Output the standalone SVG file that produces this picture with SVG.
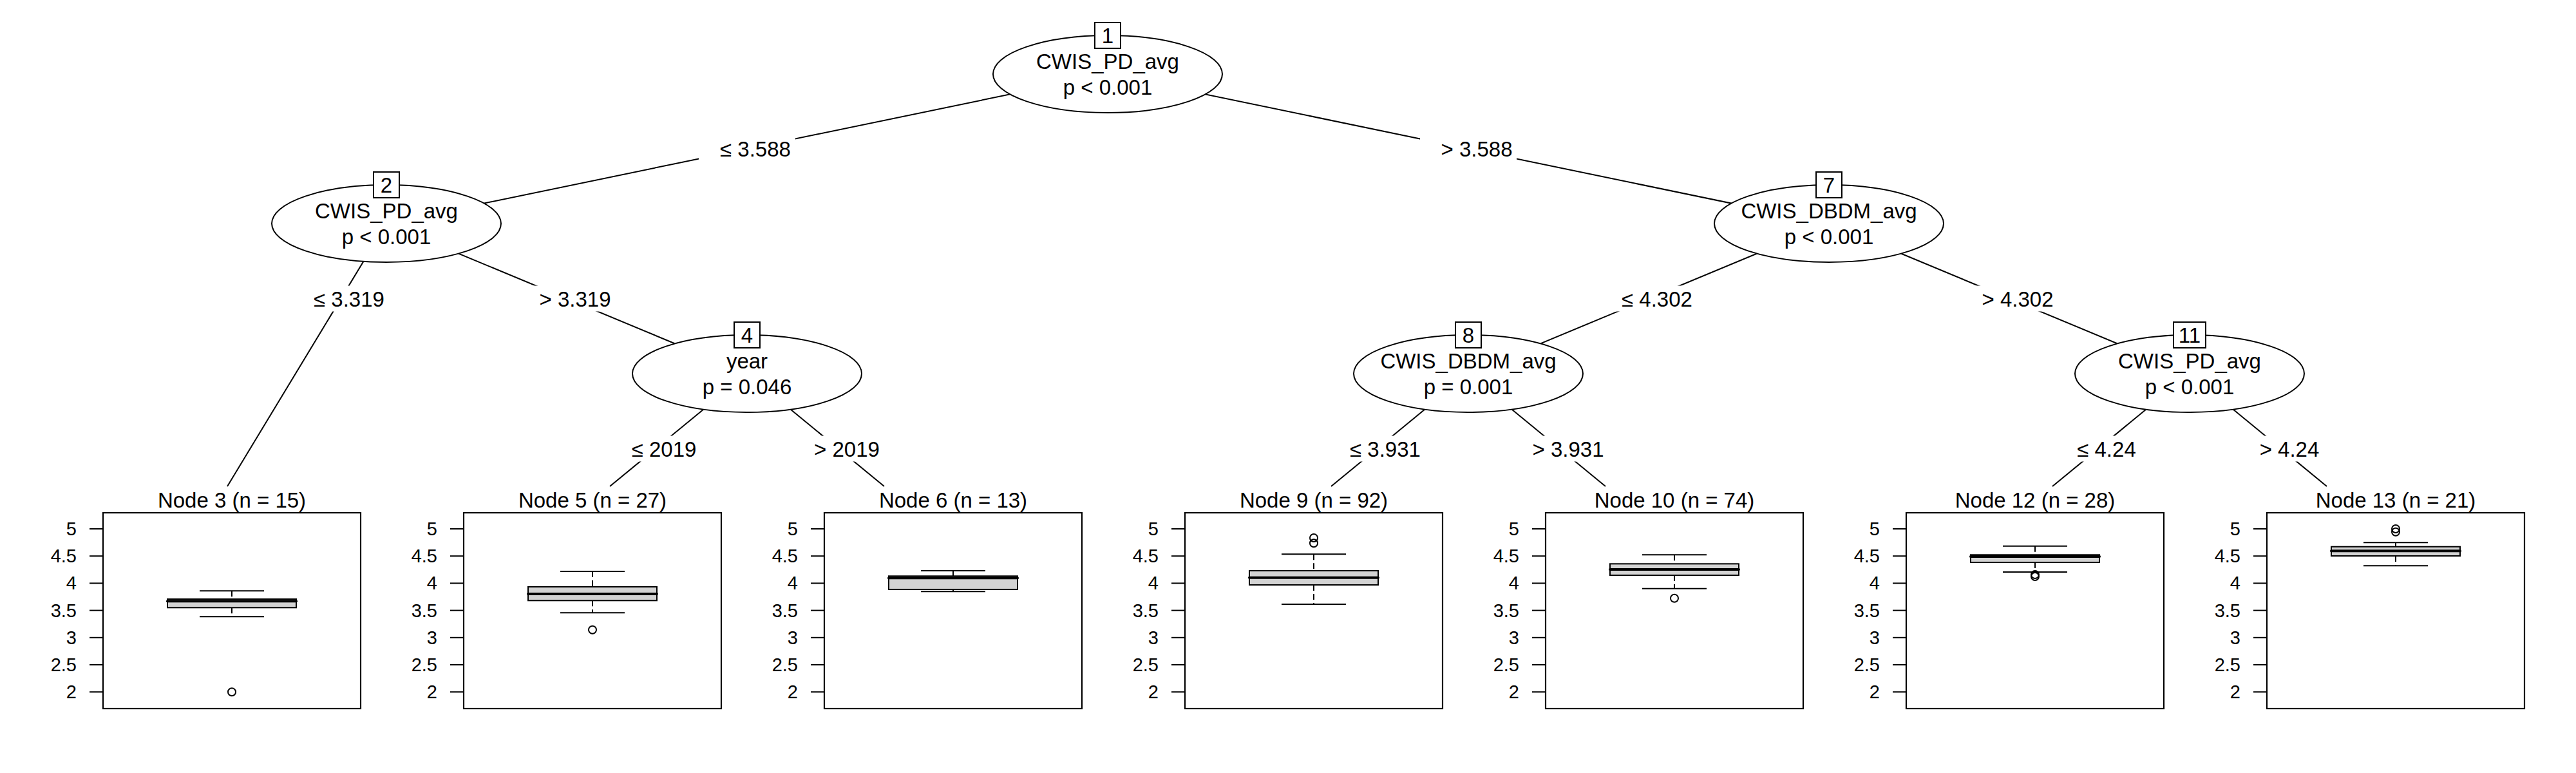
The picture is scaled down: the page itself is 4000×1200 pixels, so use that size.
<svg xmlns="http://www.w3.org/2000/svg" width="4000" height="1200" viewBox="0 0 4000 1200">
<style>
text{font-family:"Liberation Sans",Arial,Helvetica,sans-serif;fill:#000}
.t{font-size:33px;text-anchor:middle}
.ax{font-size:29px;text-anchor:end}
.edge{stroke:#000;stroke-width:2;fill:none}
.lbg{fill:#fff;stroke:none}
.ell{fill:#fff;stroke:#000;stroke-width:2}
.idb{fill:#fff;stroke:#000;stroke-width:2}
.panel{fill:#fff;stroke:#000;stroke-width:2.2}
.tick{stroke:#000;stroke-width:2}
.box{fill:#d3d3d3;stroke:#000;stroke-width:2}
.med{stroke:#000;stroke-width:4;stroke-linecap:round}
.wh{stroke:#000;stroke-width:2;stroke-dasharray:9 5}
.cap{stroke:#000;stroke-width:2}
.out{fill:none;stroke:#000;stroke-width:2}
</style>
<rect x="0" y="0" width="4000" height="1200" fill="#fff"/>
<g id="connectors">
<line class="edge" x1="1720" y1="115" x2="600" y2="347"/>
<line class="edge" x1="1720" y1="115" x2="2840" y2="347"/>
<line class="edge" x1="600" y1="347" x2="353" y2="755"/>
<line class="edge" x1="600" y1="347" x2="1160" y2="580"/>
<line class="edge" x1="1160" y1="580" x2="947" y2="755"/>
<line class="edge" x1="1160" y1="580" x2="1373" y2="755"/>
<line class="edge" x1="2840" y1="347" x2="2280" y2="580"/>
<line class="edge" x1="2840" y1="347" x2="3400" y2="580"/>
<line class="edge" x1="2280" y1="580" x2="2067" y2="755"/>
<line class="edge" x1="2280" y1="580" x2="2493" y2="755"/>
<line class="edge" x1="3400" y1="580" x2="3187" y2="755"/>
<line class="edge" x1="3400" y1="580" x2="3613" y2="755"/>
<rect class="lbg" x="1085" y="211" width="150" height="40"/>
<text class="t" x="1173" y="243">≤ 3.588</text>
<rect class="lbg" x="2205" y="211" width="150" height="40"/>
<text class="t" x="2293" y="243">&gt; 3.588</text>
<rect class="lbg" x="454.5" y="443.5" width="150" height="40"/>
<text class="t" x="542" y="475.5">≤ 3.319</text>
<rect class="lbg" x="805" y="443.5" width="150" height="40"/>
<text class="t" x="893" y="475.5">&gt; 3.319</text>
<rect class="lbg" x="953" y="676.5" width="130" height="40"/>
<text class="t" x="1031" y="708.5">≤ 2019</text>
<rect class="lbg" x="1237" y="676.5" width="130" height="40"/>
<text class="t" x="1315" y="708.5">&gt; 2019</text>
<rect class="lbg" x="2485" y="443.5" width="150" height="40"/>
<text class="t" x="2573" y="475.5">≤ 4.302</text>
<rect class="lbg" x="3045" y="443.5" width="150" height="40"/>
<text class="t" x="3133" y="475.5">&gt; 4.302</text>
<rect class="lbg" x="2063" y="676.5" width="150" height="40"/>
<text class="t" x="2151" y="708.5">≤ 3.931</text>
<rect class="lbg" x="2347" y="676.5" width="150" height="40"/>
<text class="t" x="2435" y="708.5">&gt; 3.931</text>
<rect class="lbg" x="3193" y="676.5" width="130" height="40"/>
<text class="t" x="3271" y="708.5">≤ 4.24</text>
<rect class="lbg" x="3477" y="676.5" width="130" height="40"/>
<text class="t" x="3555" y="708.5">&gt; 4.24</text>
</g>
<g id="node1">
<ellipse class="ell" cx="1720" cy="115" rx="178" ry="60"/>
<rect class="idb" x="1700" y="35" width="40" height="40"/>
<text class="t" x="1720" y="67">1</text>
<text class="t" x="1720" y="107">CWIS_PD_avg</text>
<text class="t" x="1720" y="147">p &lt; 0.001</text>
</g>
<g id="node2">
<ellipse class="ell" cx="600" cy="347" rx="178" ry="60"/>
<rect class="idb" x="580" y="267" width="40" height="40"/>
<text class="t" x="600" y="299">2</text>
<text class="t" x="600" y="339">CWIS_PD_avg</text>
<text class="t" x="600" y="379">p &lt; 0.001</text>
</g>
<g id="node4">
<ellipse class="ell" cx="1160" cy="580" rx="178" ry="60"/>
<rect class="idb" x="1140" y="500" width="40" height="40"/>
<text class="t" x="1160" y="532">4</text>
<text class="t" x="1160" y="572">year</text>
<text class="t" x="1160" y="612">p = 0.046</text>
</g>
<g id="node7">
<ellipse class="ell" cx="2840" cy="347" rx="178" ry="60"/>
<rect class="idb" x="2820" y="267" width="40" height="40"/>
<text class="t" x="2840" y="299">7</text>
<text class="t" x="2840" y="339">CWIS_DBDM_avg</text>
<text class="t" x="2840" y="379">p &lt; 0.001</text>
</g>
<g id="node8">
<ellipse class="ell" cx="2280" cy="580" rx="178" ry="60"/>
<rect class="idb" x="2260" y="500" width="40" height="40"/>
<text class="t" x="2280" y="532">8</text>
<text class="t" x="2280" y="572">CWIS_DBDM_avg</text>
<text class="t" x="2280" y="612">p = 0.001</text>
</g>
<g id="node11">
<ellipse class="ell" cx="3400" cy="580" rx="178" ry="60"/>
<rect class="idb" x="3375" y="500" width="50" height="40"/>
<text class="t" x="3400" y="532">11</text>
<text class="t" x="3400" y="572">CWIS_PD_avg</text>
<text class="t" x="3400" y="612">p &lt; 0.001</text>
</g>
<g id="node3">
<text class="t" x="360" y="788">Node 3 (n = 15)</text>
<rect class="panel" x="160" y="796" width="400" height="304"/>
<line class="tick" x1="139" y1="821" x2="160" y2="821"/><line class="tick" x1="139" y1="863.2" x2="160" y2="863.2"/><line class="tick" x1="139" y1="905.4" x2="160" y2="905.4"/><line class="tick" x1="139" y1="947.6" x2="160" y2="947.6"/><line class="tick" x1="139" y1="989.8" x2="160" y2="989.8"/><line class="tick" x1="139" y1="1032" x2="160" y2="1032"/><line class="tick" x1="139" y1="1074.2" x2="160" y2="1074.2"/>
<text class="ax" x="119" y="831">5</text><text class="ax" x="119" y="873.2">4.5</text><text class="ax" x="119" y="915.4">4</text><text class="ax" x="119" y="957.6">3.5</text><text class="ax" x="119" y="999.8">3</text><text class="ax" x="119" y="1042">2.5</text><text class="ax" x="119" y="1084.2">2</text>
<line class="wh" x1="360" y1="917.3" x2="360" y2="930"/><line class="cap" x1="310" y1="917.3" x2="410" y2="917.3"/>
<line class="wh" x1="360" y1="943.3" x2="360" y2="957.3"/><line class="cap" x1="310" y1="957.3" x2="410" y2="957.3"/>
<rect class="box" x="260" y="930" width="200" height="13.3"/>
<line class="med" x1="260" y1="933.3" x2="460" y2="933.3"/>
<circle class="out" cx="360" cy="1074.3" r="6"/>
</g>
<g id="node5">
<text class="t" x="920" y="788">Node 5 (n = 27)</text>
<rect class="panel" x="720" y="796" width="400" height="304"/>
<line class="tick" x1="699" y1="821" x2="720" y2="821"/><line class="tick" x1="699" y1="863.2" x2="720" y2="863.2"/><line class="tick" x1="699" y1="905.4" x2="720" y2="905.4"/><line class="tick" x1="699" y1="947.6" x2="720" y2="947.6"/><line class="tick" x1="699" y1="989.8" x2="720" y2="989.8"/><line class="tick" x1="699" y1="1032" x2="720" y2="1032"/><line class="tick" x1="699" y1="1074.2" x2="720" y2="1074.2"/>
<text class="ax" x="679" y="831">5</text><text class="ax" x="679" y="873.2">4.5</text><text class="ax" x="679" y="915.4">4</text><text class="ax" x="679" y="957.6">3.5</text><text class="ax" x="679" y="999.8">3</text><text class="ax" x="679" y="1042">2.5</text><text class="ax" x="679" y="1084.2">2</text>
<line class="wh" x1="920" y1="887" x2="920" y2="911"/><line class="cap" x1="870" y1="887" x2="970" y2="887"/>
<line class="wh" x1="920" y1="932.3" x2="920" y2="951.3"/><line class="cap" x1="870" y1="951.3" x2="970" y2="951.3"/>
<rect class="box" x="820" y="911" width="200" height="21.3"/>
<line class="med" x1="820" y1="922" x2="1020" y2="922"/>
<circle class="out" cx="920" cy="977.7" r="6"/>
</g>
<g id="node6">
<text class="t" x="1480" y="788">Node 6 (n = 13)</text>
<rect class="panel" x="1280" y="796" width="400" height="304"/>
<line class="tick" x1="1259" y1="821" x2="1280" y2="821"/><line class="tick" x1="1259" y1="863.2" x2="1280" y2="863.2"/><line class="tick" x1="1259" y1="905.4" x2="1280" y2="905.4"/><line class="tick" x1="1259" y1="947.6" x2="1280" y2="947.6"/><line class="tick" x1="1259" y1="989.8" x2="1280" y2="989.8"/><line class="tick" x1="1259" y1="1032" x2="1280" y2="1032"/><line class="tick" x1="1259" y1="1074.2" x2="1280" y2="1074.2"/>
<text class="ax" x="1239" y="831">5</text><text class="ax" x="1239" y="873.2">4.5</text><text class="ax" x="1239" y="915.4">4</text><text class="ax" x="1239" y="957.6">3.5</text><text class="ax" x="1239" y="999.8">3</text><text class="ax" x="1239" y="1042">2.5</text><text class="ax" x="1239" y="1084.2">2</text>
<line class="wh" x1="1480" y1="886" x2="1480" y2="894.3"/><line class="cap" x1="1430" y1="886" x2="1530" y2="886"/>
<line class="wh" x1="1480" y1="915" x2="1480" y2="918.3"/><line class="cap" x1="1430" y1="918.3" x2="1530" y2="918.3"/>
<rect class="box" x="1380" y="894.3" width="200" height="20.7"/>
<line class="med" x1="1380" y1="897.3" x2="1580" y2="897.3"/>
</g>
<g id="node9">
<text class="t" x="2040" y="788">Node 9 (n = 92)</text>
<rect class="panel" x="1840" y="796" width="400" height="304"/>
<line class="tick" x1="1819" y1="821" x2="1840" y2="821"/><line class="tick" x1="1819" y1="863.2" x2="1840" y2="863.2"/><line class="tick" x1="1819" y1="905.4" x2="1840" y2="905.4"/><line class="tick" x1="1819" y1="947.6" x2="1840" y2="947.6"/><line class="tick" x1="1819" y1="989.8" x2="1840" y2="989.8"/><line class="tick" x1="1819" y1="1032" x2="1840" y2="1032"/><line class="tick" x1="1819" y1="1074.2" x2="1840" y2="1074.2"/>
<text class="ax" x="1799" y="831">5</text><text class="ax" x="1799" y="873.2">4.5</text><text class="ax" x="1799" y="915.4">4</text><text class="ax" x="1799" y="957.6">3.5</text><text class="ax" x="1799" y="999.8">3</text><text class="ax" x="1799" y="1042">2.5</text><text class="ax" x="1799" y="1084.2">2</text>
<line class="wh" x1="2040" y1="860.3" x2="2040" y2="886"/><line class="cap" x1="1990" y1="860.3" x2="2090" y2="860.3"/>
<line class="wh" x1="2040" y1="908" x2="2040" y2="938"/><line class="cap" x1="1990" y1="938" x2="2090" y2="938"/>
<rect class="box" x="1940" y="886" width="200" height="22"/>
<line class="med" x1="1940" y1="896.7" x2="2140" y2="896.7"/>
<circle class="out" cx="2040" cy="835" r="6"/>
<circle class="out" cx="2040" cy="843.3" r="6"/>
</g>
<g id="node10">
<text class="t" x="2600" y="788">Node 10 (n = 74)</text>
<rect class="panel" x="2400" y="796" width="400" height="304"/>
<line class="tick" x1="2379" y1="821" x2="2400" y2="821"/><line class="tick" x1="2379" y1="863.2" x2="2400" y2="863.2"/><line class="tick" x1="2379" y1="905.4" x2="2400" y2="905.4"/><line class="tick" x1="2379" y1="947.6" x2="2400" y2="947.6"/><line class="tick" x1="2379" y1="989.8" x2="2400" y2="989.8"/><line class="tick" x1="2379" y1="1032" x2="2400" y2="1032"/><line class="tick" x1="2379" y1="1074.2" x2="2400" y2="1074.2"/>
<text class="ax" x="2359" y="831">5</text><text class="ax" x="2359" y="873.2">4.5</text><text class="ax" x="2359" y="915.4">4</text><text class="ax" x="2359" y="957.6">3.5</text><text class="ax" x="2359" y="999.8">3</text><text class="ax" x="2359" y="1042">2.5</text><text class="ax" x="2359" y="1084.2">2</text>
<line class="wh" x1="2600" y1="861.3" x2="2600" y2="875.3"/><line class="cap" x1="2550" y1="861.3" x2="2650" y2="861.3"/>
<line class="wh" x1="2600" y1="893" x2="2600" y2="913.7"/><line class="cap" x1="2550" y1="913.7" x2="2650" y2="913.7"/>
<rect class="box" x="2500" y="875.3" width="200" height="17.7"/>
<line class="med" x1="2500" y1="884" x2="2700" y2="884"/>
<circle class="out" cx="2600" cy="928.7" r="6"/>
</g>
<g id="node12">
<text class="t" x="3160" y="788">Node 12 (n = 28)</text>
<rect class="panel" x="2960" y="796" width="400" height="304"/>
<line class="tick" x1="2939" y1="821" x2="2960" y2="821"/><line class="tick" x1="2939" y1="863.2" x2="2960" y2="863.2"/><line class="tick" x1="2939" y1="905.4" x2="2960" y2="905.4"/><line class="tick" x1="2939" y1="947.6" x2="2960" y2="947.6"/><line class="tick" x1="2939" y1="989.8" x2="2960" y2="989.8"/><line class="tick" x1="2939" y1="1032" x2="2960" y2="1032"/><line class="tick" x1="2939" y1="1074.2" x2="2960" y2="1074.2"/>
<text class="ax" x="2919" y="831">5</text><text class="ax" x="2919" y="873.2">4.5</text><text class="ax" x="2919" y="915.4">4</text><text class="ax" x="2919" y="957.6">3.5</text><text class="ax" x="2919" y="999.8">3</text><text class="ax" x="2919" y="1042">2.5</text><text class="ax" x="2919" y="1084.2">2</text>
<line class="wh" x1="3160" y1="847.7" x2="3160" y2="861.3"/><line class="cap" x1="3110" y1="847.7" x2="3210" y2="847.7"/>
<line class="wh" x1="3160" y1="873" x2="3160" y2="888"/><line class="cap" x1="3110" y1="888" x2="3210" y2="888"/>
<rect class="box" x="3060" y="861.3" width="200" height="11.7"/>
<line class="med" x1="3060" y1="864" x2="3260" y2="864"/>
<circle class="out" cx="3160" cy="892" r="6"/>
<circle class="out" cx="3160" cy="895" r="6"/>
</g>
<g id="node13">
<text class="t" x="3720" y="788">Node 13 (n = 21)</text>
<rect class="panel" x="3520" y="796" width="400" height="304"/>
<line class="tick" x1="3499" y1="821" x2="3520" y2="821"/><line class="tick" x1="3499" y1="863.2" x2="3520" y2="863.2"/><line class="tick" x1="3499" y1="905.4" x2="3520" y2="905.4"/><line class="tick" x1="3499" y1="947.6" x2="3520" y2="947.6"/><line class="tick" x1="3499" y1="989.8" x2="3520" y2="989.8"/><line class="tick" x1="3499" y1="1032" x2="3520" y2="1032"/><line class="tick" x1="3499" y1="1074.2" x2="3520" y2="1074.2"/>
<text class="ax" x="3479" y="831">5</text><text class="ax" x="3479" y="873.2">4.5</text><text class="ax" x="3479" y="915.4">4</text><text class="ax" x="3479" y="957.6">3.5</text><text class="ax" x="3479" y="999.8">3</text><text class="ax" x="3479" y="1042">2.5</text><text class="ax" x="3479" y="1084.2">2</text>
<line class="wh" x1="3720" y1="842.3" x2="3720" y2="848.7"/><line class="cap" x1="3670" y1="842.3" x2="3770" y2="842.3"/>
<line class="wh" x1="3720" y1="863" x2="3720" y2="878.3"/><line class="cap" x1="3670" y1="878.3" x2="3770" y2="878.3"/>
<rect class="box" x="3620" y="848.7" width="200" height="14.3"/>
<line class="med" x1="3620" y1="855.3" x2="3820" y2="855.3"/>
<circle class="out" cx="3720" cy="821" r="6"/>
<circle class="out" cx="3720" cy="825.7" r="6"/>
</g>
</svg>
